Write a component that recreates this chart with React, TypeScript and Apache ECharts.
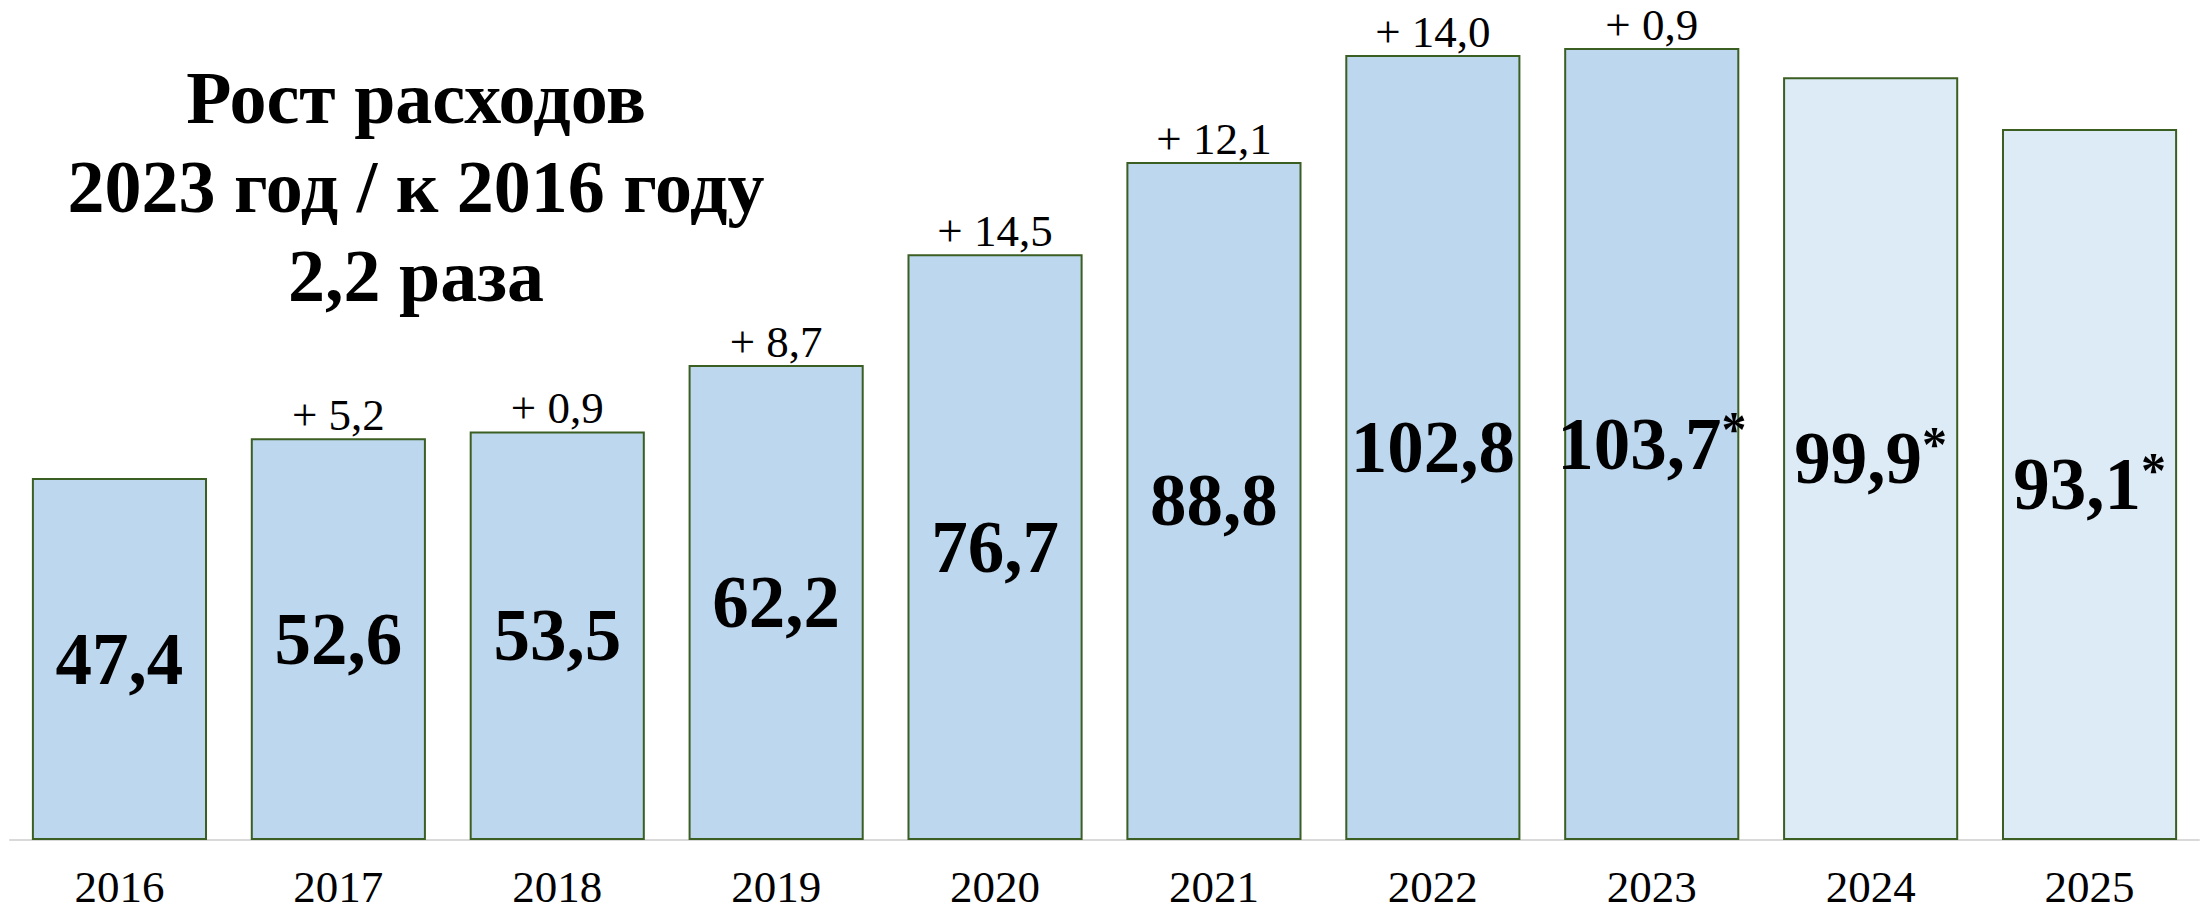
import React, { useEffect, useRef } from "react";
import * as echarts from "echarts";

const years = ["2016", "2017", "2018", "2019", "2020", "2021", "2022", "2023", "2024", "2025"];
const spending = [47.4, 52.6, 53.5, 62.2, 76.7, 88.8, 102.8, 103.7, 99.9, 93.1];
const growth: (number | null)[] = [null, 5.2, 0.9, 8.7, 14.5, 12.1, 14.0, 0.9, null, null];
const starred = [false, false, false, false, false, false, false, true, true, true];
const projected = [false, false, false, false, false, false, false, false, true, true];
const titleLines = ["Рост расходов", "2023 год / к 2016 году", "2,2 раза"];

const SERIF = "'Liberation Serif', 'Times New Roman', serif";
const fmt = (v: number) => v.toFixed(1).replace(".", ",");

export default function App() {
  const ref = useRef<HTMLDivElement>(null);

  useEffect(() => {
    if (!ref.current) return;
    const chart = echarts.init(ref.current, undefined, { renderer: "svg" });
    chart.setOption({
      animation: false,
      backgroundColor: "#ffffff",
      grid: { left: 10, right: 4, top: 0, bottom: 75, containLabel: false },
      xAxis: {
        type: "category",
        data: years,
        axisLine: { show: true, lineStyle: { color: "#d9d9d9", width: 2 } },
        axisTick: { show: false },
        axisLabel: { fontSize: 45, lineHeight: 36, color: "#000", fontFamily: SERIF, margin: 29 },
      },
      yAxis: {
        type: "value",
        min: 0,
        max: 110,
        show: false,
        splitLine: { show: false },
      },
      graphic: [
        {
          type: "text",
          x: 416,
          y: 187,
          style: {
            text: titleLines.join("\n"),
            fontSize: 74,
            fontWeight: "bold",
            fontFamily: SERIF,
            fill: "#000",
            align: "center",
            verticalAlign: "middle",
            lineHeight: 89,
          },
        },
      ],
      series: [
        {
          type: "bar",
          barCategoryGap: "20%",
          barGap: "-100%",
          z: 2,
          data: spending.map((v, i) => ({
            value: v,
            itemStyle: { color: projected[i] ? "#DDEBF7" : "#BDD7EE" },
          })),
          itemStyle: { borderColor: "#3B5E22", borderWidth: 2 },
          label: {
            show: true,
            position: "inside",
            formatter: (p: any) =>
              starred[p.dataIndex] ? `{v|${fmt(p.value)}}{s|*}` : `{v|${fmt(p.value)}}`,
            rich: {
              v: { fontSize: 73, fontWeight: "bold", fontFamily: SERIF, color: "#000", lineHeight: 80 },
              s: { fontSize: 50, fontWeight: "bold", fontFamily: SERIF, color: "#000", verticalAlign: "top" },
            },
          },
        },
        {
          type: "bar",
          barCategoryGap: "20%",
          barGap: "-100%",
          z: 1,
          silent: true,
          data: spending,
          itemStyle: { color: "transparent", borderWidth: 0 },
          label: {
            show: true,
            position: "top",
            distance: 3,
            fontSize: 45,
            lineHeight: 40,
            fontFamily: SERIF,
            color: "#000",
            formatter: (p: any) => {
              const g = growth[p.dataIndex];
              return g == null ? "" : `+ ${fmt(g)}`;
            },
          },
        },
      ],
    });
    return () => chart.dispose();
  }, []);

  return (
    <div
      ref={ref}
      style={{ position: "absolute", left: 0, top: 0, width: 2203, height: 915 }}
    />
  );
}
